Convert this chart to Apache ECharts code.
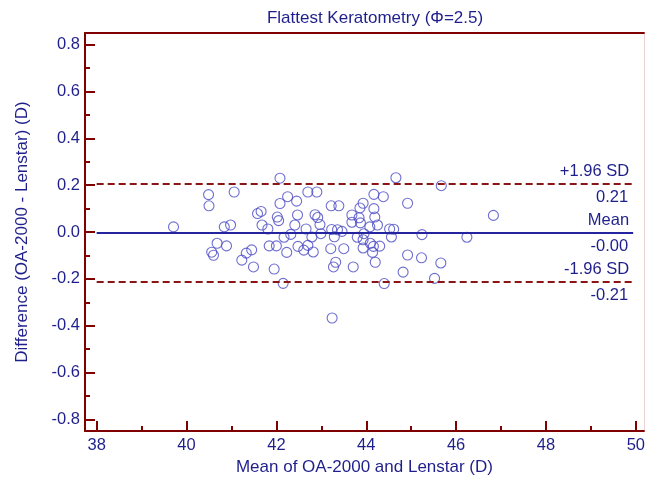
<!DOCTYPE html>
<html>
<head>
<meta charset="utf-8">
<script src="https://cdn.jsdelivr.net/npm/echarts@6/dist/echarts.min.js"></script>
<style>
  html, body { margin: 0; padding: 0; background: #ffffff; }
  #chart { width: 648px; height: 481px; }
</style>
</head>
<body>
<div id="chart"></div>
<script>
// Bland-Altman data: mean of the two devices (D) and their difference (D)
const meanValues = [
  39.71, 40.49, 40.50, 41.06, 40.84, 40.98, 40.68, 40.56, 40.60, 40.89,
  41.23, 41.33, 41.45, 41.49, 42.08, 41.58, 41.66, 41.68, 41.81, 41.84,
  42.00, 41.95, 42.15, 42.02, 42.05, 42.08, 42.25, 42.45, 42.47, 42.41,
  42.32, 42.17, 42.23, 42.48, 42.61, 42.70, 42.82, 42.79, 42.66, 42.70,
  42.90, 42.86, 42.92, 42.97, 42.99, 43.22, 43.39, 43.23, 43.36, 43.29,
  43.46, 43.21, 43.50, 43.32, 43.27, 43.71, 43.24, 44.66, 45.67, 44.17,
  44.38, 43.93, 43.86, 44.17, 43.68, 43.68, 43.84, 43.87, 44.19, 44.25,
  44.08, 44.92, 46.83, 44.52, 44.61, 44.56, 45.24, 46.24, 43.80, 43.95,
  43.93, 44.09, 44.16, 44.30, 43.93, 44.14, 44.20, 44.92, 45.23, 45.66,
  44.82, 45.52, 44.40
];
const diffValues = [
  0.022, 0.160, 0.112, 0.171, 0.022, 0.030, -0.048, -0.086, -0.099, -0.059,
  -0.120, -0.090, -0.076, -0.149, 0.230, 0.079, 0.088, 0.030, 0.013, -0.059,
  -0.059, -0.158, -0.219, 0.064, 0.049, 0.122, 0.151, 0.132, 0.073, 0.030,
  -0.010, -0.022, -0.087, -0.061, -0.077, -0.057, -0.085, -0.021, 0.013, 0.171,
  0.171, 0.074, 0.062, 0.032, -0.007, 0.112, 0.112, 0.011, 0.010, -0.020,
  0.003, -0.071, -0.071, -0.129, -0.149, -0.149, -0.367, 0.232, 0.198, 0.161,
  0.151, 0.123, 0.103, 0.100, 0.073, 0.042, 0.061, 0.039, 0.064, 0.030,
  0.022, 0.123, 0.071, 0.013, 0.012, -0.021, -0.011, -0.022, -0.022, -0.007,
  -0.033, -0.048, -0.061, -0.060, -0.068, -0.087, -0.129, -0.098, -0.110, -0.132,
  -0.171, -0.198, -0.220
];

// Agreement statistics
const meanDiff = -0.004;
const upperLoA = 0.206;
const lowerLoA = -0.214;
const lineStart = 38;
const lineEnd = 49.94;

// Axis ticks
const xMajorTicks = [38, 40, 42, 44, 46, 48, 50];
const xMinorTicks = [39, 41, 43, 45, 47, 49];
const yMajorTicks = [0.8, 0.6, 0.4, 0.2, 0, -0.2, -0.4, -0.6, -0.8];
const yMinorTicks = [0.7, 0.5, 0.3, 0.1, -0.1, -0.3, -0.5, -0.7];

const X_MIN = 37.74, X_MAX = 50.18;
const Y_MIN = -0.85, Y_MAX = 0.85;

const AXIS_RED = '#800000';
const TEXT_BLUE = '#1f1f8c';
const MEAN_BLUE = '#2424a0';
const DOT_BLUE = '#4a4ac4';
const FONT = '"Liberation Sans", Arial, sans-serif';

const textStyle = { color: TEXT_BLUE, fontSize: 16.5, fontFamily: FONT };
const nameStyle = { color: TEXT_BLUE, fontSize: 17, fontFamily: FONT };

const points = meanValues.map((m, i) => [m, diffValues[i]]);

function refLine(value, topText, lineStyle) {
  return [
    [
      { coord: [lineStart, value], lineStyle: lineStyle,
        label: Object.assign({ show: true, position: 'insideEndTop', distance: 4, formatter: topText }, textStyle) },
      { coord: [lineEnd, value] }
    ],
    [
      { coord: [lineStart, value], lineStyle: { color: 'rgba(0,0,0,0)', width: 2, type: 'solid' },
        label: Object.assign({ show: true, position: 'insideEndBottom', distance: 5, formatter: value.toFixed(2) }, textStyle) },
      { coord: [lineEnd, value] }
    ]
  ];
}

const dashed = { color: '#8b1414', width: 2, type: [7, 4] };
const solid = { color: MEAN_BLUE, width: 2, type: 'solid' };

const chart = echarts.init(document.getElementById('chart'), null, { renderer: 'canvas' });

chart.setOption({
  animation: false,
  backgroundColor: '#ffffff',
  title: {
    text: 'Flattest Keratometry (Φ=2.5)',
    left: 370,
    top: 5,
    textAlign: 'center',
    textStyle: Object.assign({ fontWeight: 'normal' }, nameStyle)
  },
  grid: { left: 85, right: 3, top: 33, bottom: 49 },
  xAxis: [
    {
      type: 'value', position: 'bottom', min: X_MIN, max: X_MAX,
      name: 'Mean of OA-2000 and Lenstar (D)',
      nameLocation: 'middle', nameGap: 27, nameTextStyle: nameStyle,
      axisLine: { show: true, onZero: false, lineStyle: { color: AXIS_RED, width: 2 } },
      axisTick: { show: true, inside: true, length: 10, customValues: xMajorTicks, lineStyle: { color: AXIS_RED, width: 2 } },
      axisLabel: Object.assign({ customValues: xMajorTicks, margin: 6 }, textStyle),
      splitLine: { show: false }
    },
    {
      type: 'value', position: 'bottom', min: X_MIN, max: X_MAX,
      axisLine: { show: false, onZero: false },
      axisTick: { show: true, inside: true, length: 5, customValues: xMinorTicks, lineStyle: { color: AXIS_RED, width: 2 } },
      axisLabel: { show: false },
      splitLine: { show: false }
    },
    {
      type: 'value', position: 'top', min: X_MIN, max: X_MAX,
      axisLine: { show: true, onZero: false, lineStyle: { color: AXIS_RED, width: 2 } },
      axisTick: { show: false }, axisLabel: { show: false }, splitLine: { show: false }
    }
  ],
  yAxis: [
    {
      type: 'value', position: 'left', min: Y_MIN, max: Y_MAX,
      name: 'Difference (OA-2000 - Lenstar) (D)',
      nameLocation: 'middle', nameGap: 54, nameTextStyle: nameStyle,
      axisLine: { show: true, onZero: false, lineStyle: { color: AXIS_RED, width: 2 } },
      axisTick: { show: true, inside: true, length: 10, customValues: yMajorTicks, lineStyle: { color: AXIS_RED, width: 2 } },
      axisLabel: Object.assign({ customValues: yMajorTicks, margin: 5, formatter: v => v.toFixed(1) }, textStyle),
      splitLine: { show: false }
    },
    {
      type: 'value', position: 'left', min: Y_MIN, max: Y_MAX,
      axisLine: { show: false, onZero: false },
      axisTick: { show: true, inside: true, length: 5, customValues: yMinorTicks, lineStyle: { color: AXIS_RED, width: 2 } },
      axisLabel: { show: false },
      splitLine: { show: false }
    },
    {
      type: 'value', position: 'right', min: Y_MIN, max: Y_MAX,
      axisLine: { show: true, onZero: false, lineStyle: { color: '#ecd4d4', width: 1 } },
      axisTick: { show: false }, axisLabel: { show: false }, splitLine: { show: false }
    }
  ],
  series: [
    {
      name: 'limits',
      type: 'line',
      data: [],
      z: 1,
      markLine: {
        silent: true,
        symbol: ['none', 'none'],
        animation: false,
        data: [].concat(
          refLine(upperLoA, '+1.96 SD', dashed),
          refLine(meanDiff, 'Mean', solid),
          refLine(lowerLoA, '-1.96 SD', dashed)
        )
      }
    },
    {
      name: 'differences',
      type: 'scatter',
      z: 3,
      data: points,
      symbol: 'circle',
      symbolSize: 10,
      itemStyle: { color: 'rgba(255,255,255,0)', borderColor: DOT_BLUE, borderWidth: 1.1 }
    }
  ]
});
</script>
</body>
</html>
